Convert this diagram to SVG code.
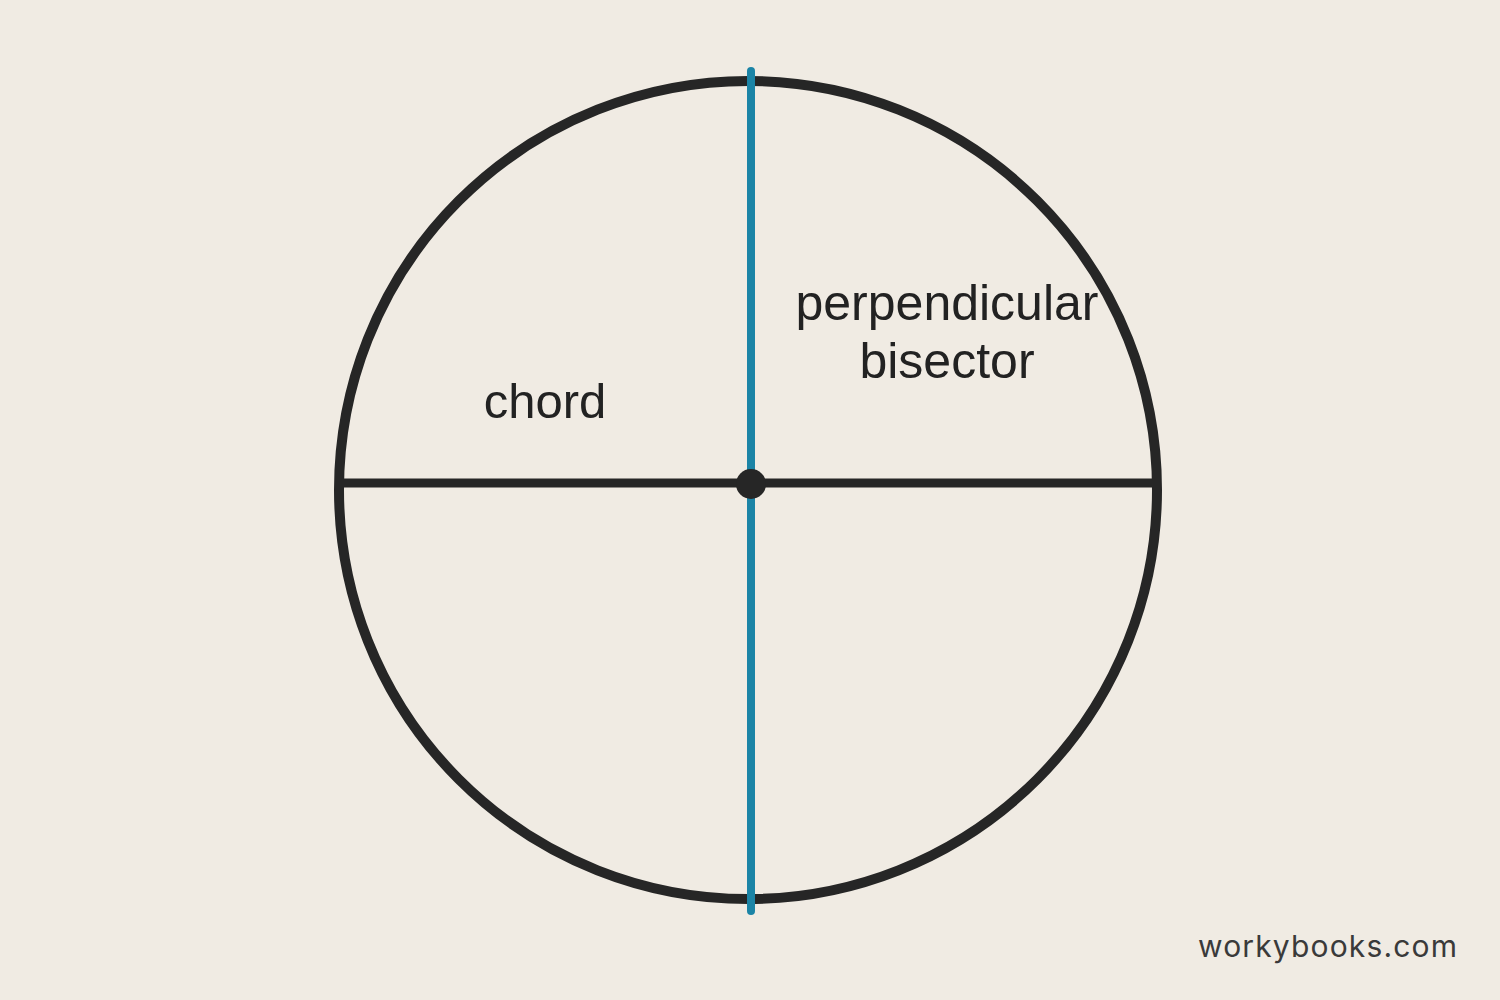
<svg xmlns="http://www.w3.org/2000/svg" width="1500" height="1000" viewBox="0 0 1500 1000">
<style>
.lbl{font-family:"Liberation Sans",Arial,sans-serif;fill:#222;text-anchor:middle}
.wm{font-family:Inter,"Liberation Sans",Arial,sans-serif;fill:#3a3a3a}
</style>
<rect width="1500" height="1000" fill="#f0ebe3"/>
<g id="circle">
<circle cx="748" cy="490" r="409" fill="none" stroke="#262626" stroke-width="10"/>
</g>
<g id="connectors">
<line id="chord-line" x1="337" y1="483" x2="1158" y2="483" stroke="#262626" stroke-width="9"/>
<line id="bisector-line" x1="751" y1="71" x2="751" y2="911" stroke="#1b84a6" stroke-width="8" stroke-linecap="round"/>
</g>
<g id="midpoint">
<circle cx="751" cy="484" r="15" fill="#262626"/>
</g>
<g id="label-chord">
<text class="lbl" x="545" y="418" font-size="49">chord</text>
</g>
<g id="label-bisector">
<text class="lbl" x="947" y="320" font-size="50">perpendicular</text>
<text class="lbl" x="947" y="378" font-size="50">bisector</text>
</g>
<g id="watermark">
<text class="wm" x="1198" y="957" font-size="30" textLength="259" lengthAdjust="spacing">workybooks.com</text>
</g>
</svg>
